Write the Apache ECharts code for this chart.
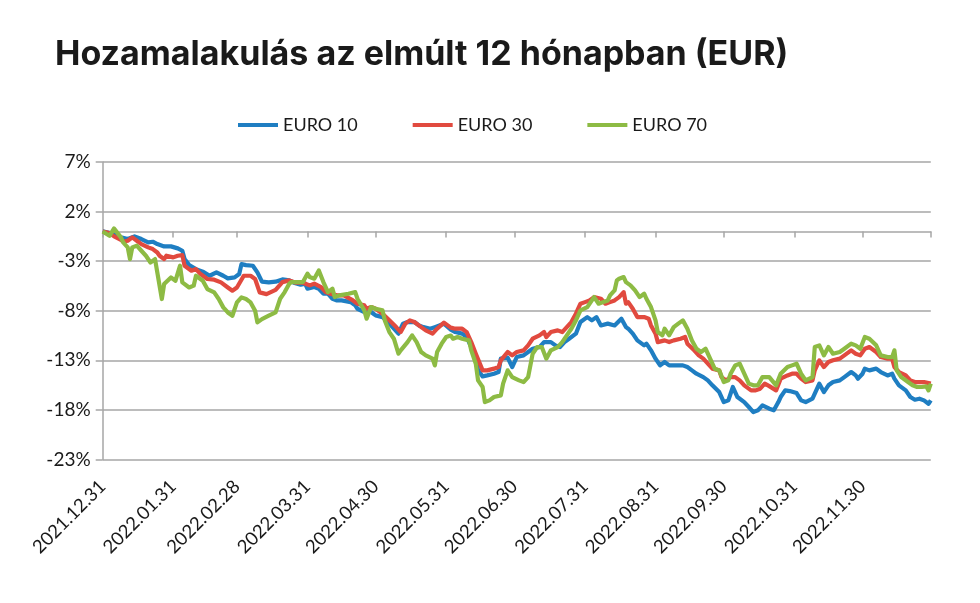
<!DOCTYPE html>
<html>
<head>
<meta charset="utf-8">
<script src="https://cdn.jsdelivr.net/npm/echarts@6/dist/echarts.min.js"></script>
<style>
html,body{margin:0;padding:0;background:#fff;}
#chart{width:980px;height:603px;}
</style>
</head>
<body>
<div id="chart"></div>
<script>
// ---- data ----
const titleText = 'Hozamalakulás az elmúlt 12 hónapban (EUR)';
const seriesNames = ['EURO 10', 'EURO 30', 'EURO 70'];
const tickLabels = ['2021.12.31','2022.01.31','2022.02.28','2022.03.31','2022.04.30','2022.05.31','2022.06.30','2022.07.31','2022.08.31','2022.09.30','2022.10.31','2022.11.30'];
const yTicks = [-23, -18, -13, -8, -3, 2, 7];

// day offsets from 2021.12.31 and values (%)
const euro10Days = [0,5,8,11,14,17,20,22,24,27,30,33,35,36,38,41,44,47,50,53,55,58,60,61,63,66,68,70,73,76,79,82,84,87,89,90,93,95,97,99,101,103,105,109,111,112,115,117,119,120,123,126,128,130,132,134,137,139,141,144,146,148,150,153,155,158,160,162,164,165,167,169,172,174,175,178,180,182,185,187,189,192,194,197,199,201,203,205,208,210,213,215,217,219,222,225,228,230,231,233,235,238,239,241,243,245,247,249,252,255,257,259,261,264,266,268,271,273,275,277,279,282,284,286,288,290,293,295,297,298,300,302,305,307,309,312,314,315,317,319,321,324,326,329,331,332,334,335,337,340,342,345,347,348,350,353,355,357,359,361,363,364];
const euro10Values = [0,-0.27,-0.6,-0.77,-0.5,-0.77,-1.1,-1.04,-1.28,-1.51,-1.51,-1.71,-1.95,-2.79,-3.4,-3.8,-4.06,-4.47,-4.13,-4.47,-4.74,-4.64,-4.3,-3.3,-3.4,-3.46,-4.13,-5.07,-5.14,-5.07,-4.84,-4.94,-5.17,-5.37,-5.27,-5.78,-5.61,-5.78,-6.28,-6.28,-6.79,-6.96,-6.96,-7.13,-7.46,-7.8,-8.13,-7.96,-8.3,-8.47,-8.64,-9.3,-9.81,-10.31,-9.3,-9.14,-9.14,-9.48,-9.65,-9.81,-9.65,-9.48,-9.3,-9.9,-10.15,-10.31,-10.65,-11.66,-12.67,-14.01,-14.62,-14.52,-14.35,-14.18,-12.83,-12.73,-13.68,-12.67,-12.5,-12.16,-11.83,-11.66,-11.16,-11.16,-11.49,-11.66,-11.16,-10.82,-10.31,-9.14,-8.64,-8.97,-8.64,-9.48,-9.3,-9.48,-8.8,-9.65,-9.81,-10.31,-10.99,-11.49,-11.32,-11.99,-12.83,-13.51,-13.17,-13.51,-13.51,-13.51,-13.68,-14.01,-14.35,-14.69,-15.02,-15.52,-16.2,-17.21,-17.04,-15.69,-16.7,-17.21,-17.71,-18.22,-18.04,-17.54,-17.88,-18.04,-17.21,-16.7,-16.03,-16.1,-16.3,-17.04,-17.21,-16.87,-15.86,-15.35,-16.2,-15.52,-15.19,-15.02,-14.69,-14.18,-14.52,-14.85,-14.35,-13.84,-14.01,-13.84,-14.18,-14.52,-14.35,-14.85,-15.52,-16.03,-16.7,-16.97,-16.87,-17.04,-17.38,-17.04];

const euro30Days = [0,3,5,8,9,11,13,15,17,20,22,24,25,27,28,31,33,35,36,39,41,43,46,49,52,55,57,59,62,65,67,69,72,76,79,82,85,88,91,93,96,98,100,103,106,110,112,115,116,118,120,123,126,129,131,133,135,137,140,142,145,147,150,153,155,158,160,162,164,167,169,172,174,175,178,180,182,185,187,189,192,194,195,197,200,202,204,206,208,210,212,214,216,219,221,223,225,227,229,230,231,233,235,238,240,241,243,244,247,249,251,254,256,257,260,262,264,266,268,271,272,274,276,278,280,282,285,287,289,291,293,296,298,301,303,305,307,309,312,313,315,317,319,321,324,326,329,331,333,335,337,340,342,345,347,348,350,353,355,357,359,361,364];
const euro30Values = [0,-0.17,-0.5,-0.84,-1.04,-0.94,-0.6,-0.94,-1.28,-1.61,-1.78,-2.12,-2.45,-2.79,-2.45,-2.62,-2.45,-2.39,-3.46,-3.96,-3.8,-4.3,-4.8,-4.87,-5.14,-5.65,-5.98,-5.65,-4.47,-4.47,-4.8,-6.15,-6.32,-5.9,-5.11,-4.94,-5.17,-5.17,-5.44,-5.27,-5.61,-6.12,-6.28,-6.45,-6.45,-6.96,-7.29,-7.46,-7.8,-7.63,-7.8,-8.3,-8.97,-9.65,-10.15,-9.3,-8.97,-9.14,-9.65,-9.98,-10.31,-9.81,-9.2,-9.7,-9.81,-9.81,-10.15,-11.16,-12.33,-14.01,-14.01,-13.84,-13.68,-13.0,-12.16,-12.5,-12.16,-12.0,-11.49,-10.82,-10.48,-10.15,-10.65,-10.15,-9.98,-10.15,-9.65,-9.14,-8.3,-7.29,-7.13,-6.96,-6.62,-6.79,-7.29,-7.13,-6.96,-6.62,-6.12,-7.29,-7.13,-7.8,-8.64,-8.64,-8.8,-9.48,-10.31,-11.16,-10.99,-11.16,-10.99,-10.82,-10.65,-11.32,-11.99,-12.5,-12.83,-13.34,-13.84,-14.01,-14.69,-15.02,-14.69,-14.69,-15.02,-15.52,-16.03,-16.03,-15.86,-15.35,-15.6,-16.03,-14.85,-14.52,-14.35,-14.35,-14.85,-15.19,-15.02,-14.01,-13.0,-13.68,-13.17,-13.0,-12.83,-12.5,-11.99,-12.33,-12.5,-11.83,-11.66,-12.16,-12.67,-12.83,-12.83,-13.68,-14.18,-14.52,-15.02,-15.19,-15.19,-15.19,-15.35];

const euro70Days = [0,3,5,8,9,11,12,13,15,17,19,21,23,24,26,27,30,32,34,35,38,40,41,44,46,49,51,53,55,57,59,61,63,65,67,68,70,73,76,78,80,82,83,85,88,90,91,93,95,97,99,101,102,104,108,111,112,115,116,118,120,123,124,126,128,130,131,134,136,138,140,142,145,146,147,149,151,153,154,156,158,161,162,164,165,167,168,170,172,175,176,178,180,183,185,187,189,191,193,195,197,200,202,204,206,208,210,213,216,218,220,222,223,225,226,227,229,230,232,234,236,238,239,241,243,244,246,247,249,251,253,255,257,259,261,263,265,267,269,271,273,275,276,278,280,282,284,286,288,290,293,296,298,301,303,305,307,309,312,313,315,317,319,321,324,326,329,331,333,335,337,340,342,345,347,348,349,351,354,356,358,360,362,363,364];
const euro70Values = [0,-0.44,0.3,-0.6,-1.1,-1.61,-2.79,-1.61,-1.44,-1.95,-2.45,-3.13,-2.79,-4.13,-6.82,-5.31,-4.64,-4.97,-3.46,-5.14,-5.65,-5.47,-4.47,-4.97,-5.81,-6.15,-6.82,-7.66,-8.17,-8.5,-7.16,-6.65,-6.82,-7.16,-8.0,-9.17,-8.84,-8.5,-8.17,-6.79,-6.12,-5.27,-5.11,-5.11,-5.11,-4.26,-4.6,-4.77,-3.93,-5.11,-6.12,-5.78,-6.62,-6.45,-6.28,-6.12,-6.79,-7.96,-8.8,-7.63,-7.8,-7.96,-8.97,-10.15,-10.82,-12.33,-11.99,-11.16,-10.48,-11.16,-12.16,-12.5,-12.83,-13.51,-12.16,-11.32,-10.65,-10.5,-10.82,-10.65,-10.82,-10.99,-11.99,-13.34,-15.02,-15.69,-17.21,-17.04,-16.7,-16.53,-15.35,-14.01,-14.69,-15.02,-15.19,-14.69,-12.33,-11.66,-11.66,-12.83,-11.99,-11.66,-11.16,-10.48,-9.81,-8.97,-7.96,-7.63,-6.62,-7.29,-7.13,-6.96,-6.45,-5.95,-4.94,-4.77,-4.6,-5.11,-5.44,-5.95,-6.62,-6.28,-6.79,-7.63,-8.97,-10.15,-10.48,-9.81,-10.48,-9.65,-9.3,-8.97,-9.81,-10.99,-11.83,-12.16,-11.83,-12.83,-13.84,-14.01,-15.19,-15.02,-14.35,-13.51,-13.34,-14.35,-15.35,-15.52,-15.52,-14.69,-14.7,-15.52,-14.35,-13.68,-13.51,-13.34,-14.35,-15.02,-14.69,-11.66,-11.49,-12.5,-11.66,-12.33,-12.16,-11.83,-11.32,-11.49,-11.83,-10.65,-10.82,-11.49,-12.5,-12.67,-12.67,-11.99,-14.01,-14.69,-15.19,-15.52,-15.69,-15.69,-15.62,-16.03,-15.35];

// ---- chart ----
const categories = [];
const start = Date.UTC(2021, 11, 31);
for (let i = 0; i < 365; i++) {
  const d = new Date(start + i * 86400000);
  categories.push(d.getUTCFullYear() + '.' + String(d.getUTCMonth() + 1).padStart(2, '0') + '.' + String(d.getUTCDate()).padStart(2, '0'));
}
const tickSet = new Set(tickLabels);
const colors = ['#1f7ec2', '#e14a3f', '#8dbb44'];
const days = [euro10Days, euro30Days, euro70Days];
const vals = [euro10Values, euro30Values, euro70Values];

const chart = echarts.init(document.getElementById('chart'), null, {renderer: 'canvas'});
const labelFont = 'Lato, "Liberation Sans", sans-serif';
chart.setOption({
  animation: false,
  backgroundColor: '#ffffff',
  title: {
    text: titleText,
    left: 50, top: 33,
    textStyle: {fontFamily: 'Inter, "Open Sans", sans-serif', fontWeight: 'bold', fontSize: 34, color: '#1a1a1a'}
  },
  legend: {
    data: seriesNames,
    left: 233, top: 111,
    icon: 'rect', itemWidth: 40, itemHeight: 4, itemGap: 55,
    textStyle: {fontFamily: labelFont, fontSize: 18, color: '#1a1a1a'}
  },
  grid: {left: 102.7, right: 49.2, top: 162, bottom: 143.5, containLabel: false},
  xAxis: [
    {
      type: 'category', data: categories, boundaryGap: false, position: 'bottom',
      axisLine: {show: false, onZero: false}, axisTick: {show: false}, splitLine: {show: false},
      axisLabel: {
        interval: (i, v) => tickSet.has(v), rotate: 45, margin: 24,
        fontFamily: labelFont, fontSize: 18.5, color: '#1a1a1a'
      }
    },
    {
      type: 'category', data: categories, boundaryGap: false, position: 'top',
      axisLine: {show: true, onZero: true, lineStyle: {color: '#a6a6a6', width: 1.5}},
      axisTick: {show: true, inside: true, length: 6, interval: (i, v) => tickSet.has(v) || i === categories.length - 1, lineStyle: {color: '#a6a6a6', width: 1.5}},
      axisLabel: {show: false}, splitLine: {show: false}
    }
  ],
  yAxis: {
    type: 'value', min: -23, max: 7, interval: 5,
    axisLine: {show: true, onZero: false, lineStyle: {color: '#a6a6a6', width: 1.5}},
    axisTick: {show: true, length: 7, lineStyle: {color: '#a6a6a6', width: 1.5}},
    splitLine: {show: true, lineStyle: {color: '#a6a6a6', width: 1.5}},
    axisLabel: {formatter: '{value}%', margin: 12, fontFamily: labelFont, fontSize: 19, color: '#1a1a1a'}
  },
  series: seriesNames.map((name, s) => ({
    name, type: 'line', xAxisIndex: 0, showSymbol: false, symbol: 'none',
    connectNulls: true, smooth: false,
    lineStyle: {color: colors[s], width: 4.2, join: 'round'},
    itemStyle: {color: colors[s]},
    data: days[s].map((d, i) => [d, vals[s][i]])
  }))
});
</script>
</body>
</html>
